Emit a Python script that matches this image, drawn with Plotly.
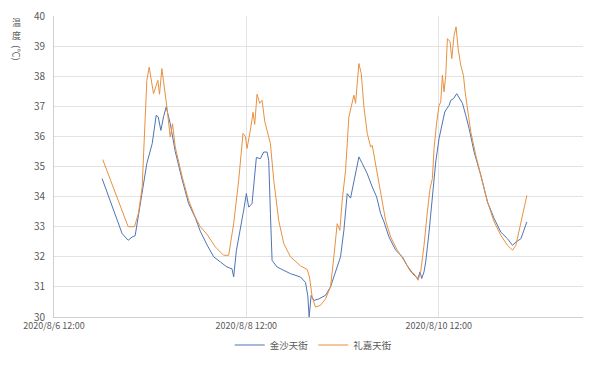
import plotly.graph_objects as go

# 金沙天街 (blue) readings
jinsha_time = [
    "2020-08-07 00:00", "2020-08-07 05:00", "2020-08-07 06:30", "2020-08-07 07:30", "2020-08-07 08:15",
    "2020-08-07 10:00", "2020-08-07 11:10", "2020-08-07 12:30", "2020-08-07 13:30", "2020-08-07 14:00",
    "2020-08-07 14:40", "2020-08-07 15:20", "2020-08-07 16:00", "2020-08-07 17:00", "2020-08-07 18:15",
    "2020-08-07 20:00", "2020-08-07 21:35", "2020-08-07 23:15", "2020-08-08 00:30", "2020-08-08 02:10",
    "2020-08-08 03:50", "2020-08-08 05:30", "2020-08-08 07:10", "2020-08-08 08:25", "2020-08-08 08:50",
    "2020-08-08 09:30", "2020-08-08 10:30", "2020-08-08 11:20", "2020-08-08 12:00", "2020-08-08 12:35",
    "2020-08-08 13:25", "2020-08-08 14:00", "2020-08-08 14:30", "2020-08-08 15:30", "2020-08-08 16:20",
    "2020-08-08 17:10", "2020-08-08 17:35", "2020-08-08 18:00", "2020-08-08 18:25", "2020-08-08 19:40",
    "2020-08-08 21:20", "2020-08-08 23:00", "2020-08-09 01:30", "2020-08-09 02:45", "2020-08-09 03:20",
    "2020-08-09 03:40", "2020-08-09 04:10", "2020-08-09 04:50", "2020-08-09 06:05", "2020-08-09 07:45",
    "2020-08-09 09:00", "2020-08-09 09:50", "2020-08-09 10:40", "2020-08-09 11:30", "2020-08-09 12:20",
    "2020-08-09 13:10", "2020-08-09 14:00", "2020-08-09 14:50", "2020-08-09 15:15", "2020-08-09 15:50",
    "2020-08-09 16:05", "2020-08-09 16:55", "2020-08-09 18:10", "2020-08-09 19:25", "2020-08-09 20:30",
    "2020-08-09 21:30", "2020-08-09 22:20", "2020-08-09 23:35", "2020-08-10 01:15", "2020-08-10 02:55",
    "2020-08-10 04:10", "2020-08-10 05:50", "2020-08-10 06:50", "2020-08-10 07:20", "2020-08-10 07:45",
    "2020-08-10 08:20", "2020-08-10 08:45", "2020-08-10 09:35", "2020-08-10 10:25", "2020-08-10 11:15",
    "2020-08-10 12:05", "2020-08-10 12:55", "2020-08-10 13:30", "2020-08-10 14:00", "2020-08-10 14:35",
    "2020-08-10 15:00", "2020-08-10 15:40", "2020-08-10 16:30", "2020-08-10 17:05", "2020-08-10 17:55",
    "2020-08-10 18:45", "2020-08-10 19:35", "2020-08-10 20:50", "2020-08-10 22:30", "2020-08-11 00:10",
    "2020-08-11 01:50", "2020-08-11 03:30", "2020-08-11 05:10", "2020-08-11 06:25", "2020-08-11 07:15",
    "2020-08-11 08:30", "2020-08-11 10:00",
]
jinsha_temp = [
    34.6, 32.77, 32.55, 32.66, 32.7,
    34.1, 35.1, 35.76, 36.7, 36.65,
    36.2, 36.65, 36.98, 36.43, 35.5,
    34.55, 33.77, 33.3, 32.85, 32.4,
    32.0, 31.83, 31.66, 31.6, 31.33,
    32.2, 32.88, 33.55, 34.1, 33.65,
    33.77, 34.54, 35.3, 35.26, 35.48,
    35.48, 35.2, 33.44, 31.88, 31.66,
    31.55, 31.44, 31.33, 31.15, 30.7,
    30.0, 30.72, 30.55, 30.6, 30.72,
    31.0, 31.33, 31.66, 32.0, 32.88,
    34.1, 33.95, 34.54, 34.76, 35.2,
    35.32, 35.1, 34.76, 34.32, 33.99,
    33.44, 33.16, 32.66, 32.22, 32.0,
    31.7, 31.39, 31.28, 31.5, 31.28,
    31.5, 31.83, 32.82, 33.93, 35.15,
    35.93, 36.48, 36.81, 36.92, 37.03,
    37.2, 37.25, 37.42, 37.3, 37.1,
    36.7, 36.26, 35.48, 34.71, 33.82,
    33.27, 32.82, 32.6, 32.38, 32.49,
    32.6, 33.16,
]

# 礼嘉天街 (orange) readings
lijia_time = [
    "2020-08-07 00:10", "2020-08-07 06:30", "2020-08-07 08:05", "2020-08-07 09:05", "2020-08-07 10:00",
    "2020-08-07 10:45", "2020-08-07 11:10", "2020-08-07 11:45", "2020-08-07 12:50", "2020-08-07 13:55",
    "2020-08-07 14:20", "2020-08-07 14:55", "2020-08-07 15:35", "2020-08-07 16:10", "2020-08-07 17:00",
    "2020-08-07 17:35", "2020-08-07 18:15", "2020-08-07 20:00", "2020-08-07 21:35", "2020-08-07 23:15",
    "2020-08-08 00:30", "2020-08-08 02:10", "2020-08-08 04:15", "2020-08-08 06:20", "2020-08-08 07:35",
    "2020-08-08 08:50", "2020-08-08 10:05", "2020-08-08 11:10", "2020-08-08 11:45", "2020-08-08 12:10",
    "2020-08-08 13:00", "2020-08-08 13:40", "2020-08-08 14:05", "2020-08-08 14:40", "2020-08-08 15:20",
    "2020-08-08 15:55", "2020-08-08 16:35", "2020-08-08 17:10", "2020-08-08 18:00", "2020-08-08 18:50",
    "2020-08-08 20:05", "2020-08-08 21:20", "2020-08-08 23:00", "2020-08-09 01:30", "2020-08-09 03:10",
    "2020-08-09 03:45", "2020-08-09 04:25", "2020-08-09 05:15", "2020-08-09 06:30", "2020-08-09 07:45",
    "2020-08-09 09:00", "2020-08-09 09:50", "2020-08-09 10:40", "2020-08-09 11:20", "2020-08-09 11:55",
    "2020-08-09 12:45", "2020-08-09 13:35", "2020-08-09 14:10", "2020-08-09 14:50", "2020-08-09 15:15",
    "2020-08-09 15:40", "2020-08-09 16:05", "2020-08-09 16:40", "2020-08-09 17:20", "2020-08-09 18:10",
    "2020-08-09 19:00", "2020-08-09 19:25", "2020-08-09 20:15", "2020-08-09 21:30", "2020-08-09 22:45",
    "2020-08-10 00:00", "2020-08-10 01:40", "2020-08-10 03:20", "2020-08-10 05:00", "2020-08-10 05:50",
    "2020-08-10 06:50", "2020-08-10 07:30", "2020-08-10 08:20", "2020-08-10 09:10", "2020-08-10 09:50",
    "2020-08-10 10:25", "2020-08-10 10:50", "2020-08-10 11:30", "2020-08-10 12:05", "2020-08-10 12:30",
    "2020-08-10 12:55", "2020-08-10 13:20", "2020-08-10 13:45", "2020-08-10 14:10", "2020-08-10 14:50",
    "2020-08-10 15:15", "2020-08-10 15:50", "2020-08-10 16:20", "2020-08-10 16:50", "2020-08-10 17:30",
    "2020-08-10 18:10", "2020-08-10 18:35", "2020-08-10 19:10", "2020-08-10 20:00", "2020-08-10 21:15",
    "2020-08-10 22:30", "2020-08-11 00:10", "2020-08-11 01:50", "2020-08-11 03:30", "2020-08-11 05:10",
    "2020-08-11 06:25", "2020-08-11 07:15", "2020-08-11 08:30", "2020-08-11 10:00",
]
lijia_temp = [
    35.23, 33.0, 33.0, 33.45, 34.32,
    36.98, 37.86, 38.3, 37.42, 37.86,
    37.4, 38.25, 37.64, 36.98, 35.98,
    36.42, 35.65, 34.65, 33.88, 33.32,
    33.0, 32.75, 32.33, 32.05, 32.05,
    33.1, 34.54, 36.1, 36.0, 35.6,
    36.2, 36.8, 36.4, 37.4, 37.1,
    37.2, 36.5, 36.2, 35.76, 34.54,
    33.2, 32.44, 32.0, 31.7, 31.58,
    31.33, 30.67, 30.33, 30.39, 30.6,
    31.0, 32.0, 33.1, 32.88, 33.88,
    34.87, 36.65, 36.98, 37.37, 37.1,
    37.86, 38.42, 38.09, 36.98, 36.1,
    35.65, 35.7, 35.1, 34.2, 33.2,
    32.66, 32.22, 31.88, 31.5, 31.44,
    31.22, 31.5, 32.38, 33.49, 34.27,
    34.6, 35.6, 36.48, 37.03, 37.14,
    38.03, 37.48, 38.03, 39.25, 39.14,
    38.58, 39.36, 39.64, 38.92, 38.36,
    38.03, 37.48, 36.92, 36.15, 35.37,
    34.71, 33.82, 33.16, 32.71, 32.38,
    32.22, 32.38, 33.16, 34.04,
]

x_tick_vals = ["2020-08-06 12:00", "2020-08-08 12:00", "2020-08-10 12:00"]
x_tick_text = ["2020/8/6 12:00", "2020/8/8 12:00", "2020/8/10 12:00"]
x_range = ["2020-08-06 12:00", "2020-08-12 00:00"]
y_ticks = [30, 31, 32, 33, 34, 35, 36, 37, 38, 39, 40]
y_title_chars = ["温", "度"]
y_title_unit = "(℃)"

FONT = "Noto Sans CJK SC, Noto Sans, sans-serif"
GREY = "#595959"

fig = go.Figure()
fig.add_trace(go.Scatter(x=jinsha_time, y=jinsha_temp, mode="lines", name="金沙天街",
                         line=dict(color="#4f74b5", width=1)))
fig.add_trace(go.Scatter(x=lijia_time, y=lijia_temp, mode="lines", name="礼嘉天街",
                         line=dict(color="#e8913f", width=1)))

fig.update_layout(
    width=600, height=369,
    margin=dict(l=46, r=25, t=8, b=60, autoexpand=False),
    paper_bgcolor="white", plot_bgcolor="white",
    font=dict(family=FONT, size=10, color=GREY),
    showlegend=True,
    legend=dict(orientation="h", x=0.49, xanchor="center", y=-0.093, yanchor="middle",
                font=dict(size=9.5, color=GREY), itemwidth=30, tracegroupgap=0),
    xaxis=dict(type="date", range=x_range, tickvals=x_tick_vals, ticktext=x_tick_text,
               showgrid=True, gridcolor="#e3e3e3", gridwidth=1,
               showline=True, linecolor="#d0d0d0", linewidth=1, automargin=False,
               ticklabeloverflow="allow",
               ticks="", tickfont=dict(size=9, color=GREY), zeroline=False),
    yaxis=dict(range=[30, 40], tickvals=y_ticks, showgrid=True, gridcolor="#e3e3e3", gridwidth=1,
               showline=True, linecolor="#d0d0d0", linewidth=1, ticks="", automargin=False,
               ticklabeloverflow="allow",
               tickfont=dict(size=10, color=GREY), zeroline=False, ticklabelstandoff=6),
)

# vertical axis title: upright CJK characters, rotated unit
for ch, yv in zip(y_title_chars, [39.79, 39.36]):
    fig.add_annotation(text=ch, xref="paper", yref="y", x=-0.07, y=yv,
                       xanchor="center", yanchor="middle", showarrow=False,
                       font=dict(size=9, color=GREY, family=FONT))
fig.add_annotation(text=y_title_unit, xref="paper", yref="y", x=-0.07, y=38.76,
                   xanchor="center", yanchor="middle", showarrow=False, textangle=90,
                   font=dict(size=9, color=GREY, family=FONT))

fig.write_html("out.html")
